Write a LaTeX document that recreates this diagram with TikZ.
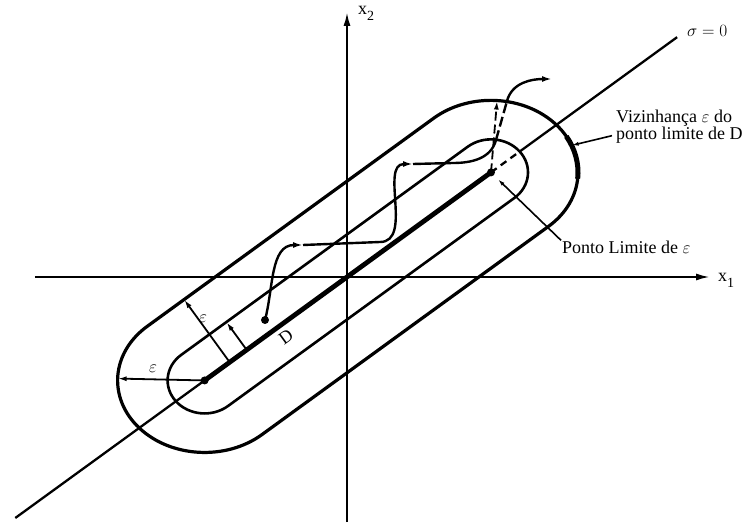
\documentclass[tikz,border=0pt]{standalone}
\usepackage{fontspec}
\setmainfont{Liberation Serif}
\usetikzlibrary{arrows.meta,calc}
\begin{document}
\begin{tikzpicture}[x=1pt,y=1pt,
  outerln/.style={line width=3.2pt},
  innerln/.style={line width=2.6pt},
  axisln/.style={line width=2.1pt,-{Latex[length=14pt,width=7pt]}},
  sigln/.style={line width=2.3pt},
  traj/.style={line width=2.4pt},
  trajtip/.style={-{Latex[length=10pt,width=6pt]}},
  epsarrow/.style={line width=1.8pt,-{Latex[length=9pt,width=5pt]}},
  pointer/.style={line width=1.6pt,-{Latex[length=7pt,width=4pt]}},
  lbl/.style={font=\fontsize{18}{18}\selectfont, inner sep=1pt},
  dotnode/.style={circle, fill=black, inner sep=0pt, minimum size=8pt},
]
\useasboundingbox (-347,-255) rectangle (399,277);

% key points
\coordinate (O) at (0,0);
\coordinate (A) at (216:176);
\coordinate (B) at (36:178);
\coordinate (sigS) at (216:410);
\coordinate (sigE) at (36:408);
\coordinate (sigM) at (36:213.4);

% axes
\coordinate (yb) at (0,-245);
\coordinate (yt) at (0,265);
\coordinate (xl) at (-312,0);
\coordinate (xr) at (363,0);
\draw[axisln] (yb) -- (yt);
\draw[axisln] (xl) -- (xr);

% sigma = 0 line
\draw[sigln] (sigS) -- (A);
\draw[sigln, dash pattern=on 7pt off 5pt] (B) -- (sigM);
\draw[sigln] (sigM) -- (sigE);

% outer stadium
\draw[outerln] ($(A)+(131.3:87 and 72)$)
  arc[start angle=131.3, end angle=311.3, x radius=87pt, y radius=72pt]
  -- ($(B)+(311.3:87 and 72)$)
  arc[start angle=-48.7, end angle=131.3, x radius=87pt, y radius=72pt]
  -- cycle;
\draw[line width=5pt] ($(B)+(-5:87 and 72)$)
  arc[start angle=-5, end angle=30, x radius=87pt, y radius=72pt];

% inner stadium
\draw[innerln] ($(A)+(129.2:37 and 33)$)
  arc[start angle=129.2, end angle=309.2, x radius=37pt, y radius=33pt]
  -- ($(B)+(309.2:37 and 33)$)
  arc[start angle=-50.8, end angle=129.2, x radius=37pt, y radius=33pt]
  -- cycle;

% segment D
\draw[line width=4.8pt] (A) -- (B);
\node[dotnode] (Adot) at (A) {};
\node[dotnode] (Bdot) at (B) {};
\node[lbl, rotate=36] (Dlbl) at (-61,-60) {D};

% epsilon arrows
\coordinate (eL) at ($(A)+(178.5:87 and 72)$);
\draw[epsarrow] (A) -- (eL);
\coordinate (P1) at ($(A)+(36:31)$);
\coordinate (P1e) at ($(P1)+(126:77.6)$);
\draw[epsarrow] (P1) -- (P1e);
\coordinate (P2) at ($(A)+(36:52)$);
\coordinate (P2e) at ($(P2)+(126:34.4)$);
\draw[epsarrow] (P2) -- (P2e);
\coordinate (eT) at ($(B)+(86:87 and 72)$);
\draw[epsarrow, dash pattern=on 9pt off 4pt] (B) -- (eT);
\node[lbl] (epsL) at (-194,-92) {$\varepsilon$};
\node[lbl] (epsU) at (-144,-42) {$\varepsilon$};

% trajectory
\coordinate (t0) at (-82,-43);
\coordinate (t1) at (-44,32);
\coordinate (t2) at (33,35);
\coordinate (t3) at (66,113);
\coordinate (t4) at (106,114);
\coordinate (t5) at (149,137);
\coordinate (t6) at (160,176);
\coordinate (t7) at (205,198);
\draw[traj, trajtip] (t0) to[out=75,in=180] (t1);
\draw[traj, trajtip] (t1) -- (t2) to[out=0,in=180] (t3);
\draw[traj] (t3) -- (t4) to[out=0,in=-105] (t5);
\draw[traj, dash pattern=on 10pt off 4pt] (t5) -- (t6);
\draw[traj, trajtip] (t6) to[out=75,in=180] (t7);
\node[dotnode] (startdot) at (t0) {};

% labels
\node[lbl, anchor=base west] (x2lbl) at (10,262) {x\raisebox{-0.3em}{\fontsize{14}{14}\selectfont 2}};
\node[lbl, anchor=base west] (x1lbl) at (370,-5) {x\raisebox{-0.3em}{\fontsize{14}{14}\selectfont 1}};
\node[lbl, anchor=base west] (siglbl) at (339,240) {$\sigma = 0$};

\node[lbl, anchor=base west] (pl) at (214,23) {Ponto Limite de $\varepsilon$};
\coordinate (plTip) at ($(B)+(7,-7)$);
\draw[pointer] (pl.north west) -- (plTip);

\node[lbl, anchor=base west, inner sep=0pt] (viz1) at (269,154) {Vizinhança $\varepsilon$ do};
\node[lbl, anchor=base west, inner sep=0pt] (viz2) at (269,137) {ponto limite de D};
\coordinate (vizTip) at ($(B)+(22:87 and 72)$);
\draw[pointer] ([xshift=-4pt]viz2.west) -- (vizTip);
\end{tikzpicture}
\end{document}
